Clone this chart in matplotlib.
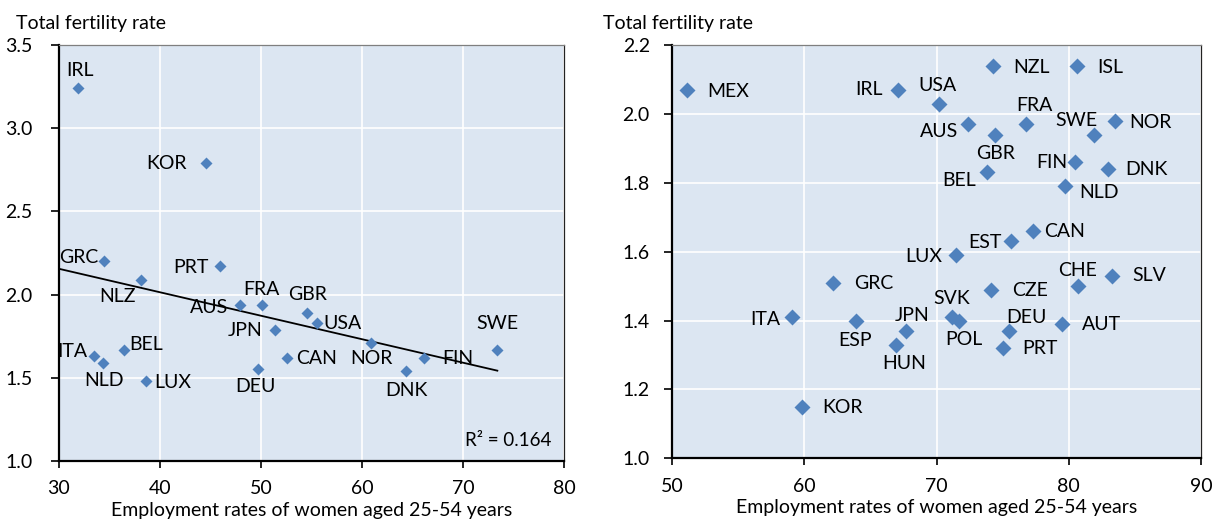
import numpy as np
import matplotlib
matplotlib.use("Agg")
import matplotlib.pyplot as plt

plt.rcParams['font.family'] = ['Lato', 'DejaVu Sans']

# Left panel: employment rate of women 25-54 vs total fertility rate
left_countries = ["IRL", "KOR", "GRC", "NLZ", "PRT", "AUS", "FRA", "JPN", "CAN", "DEU",
                  "ITA", "NLD", "BEL", "LUX", "GBR", "USA", "NOR", "FIN", "DNK", "SWE"]
left_employment = [31.9, 44.6, 34.5, 38.1, 45.9, 47.9, 50.1, 51.4, 52.6, 49.7,
                   33.5, 34.4, 36.4, 38.6, 54.6, 55.5, 60.9, 66.1, 64.4, 73.4]
left_fertility = [3.24, 2.79, 2.20, 2.09, 2.17, 1.94, 1.94, 1.79, 1.62, 1.55,
                  1.63, 1.59, 1.67, 1.48, 1.89, 1.83, 1.71, 1.62, 1.54, 1.67]
left_r2_label = "R² = 0.164"

# Right panel
right_countries = ["MEX", "IRL", "USA", "NZL", "ISL", "AUS", "GBR", "FRA", "SWE", "NOR",
                   "FIN", "DNK", "BEL", "NLD", "CAN", "EST", "LUX", "CHE", "SLV", "CZE",
                   "SVK", "POL", "DEU", "PRT", "AUT", "JPN", "HUN", "ITA", "GRC", "ESP", "KOR"]
right_employment = [51.1, 67.1, 70.2, 74.3, 80.6, 72.4, 74.4, 76.8, 81.9, 83.5,
                    80.5, 83.0, 73.8, 79.7, 77.3, 75.6, 71.5, 80.7, 83.3, 74.1,
                    71.2, 71.7, 75.5, 75.0, 79.5, 67.7, 66.9, 59.1, 62.2, 63.9, 59.8]
right_fertility = [2.07, 2.07, 2.03, 2.14, 2.14, 1.97, 1.94, 1.97, 1.94, 1.98,
                   1.86, 1.84, 1.83, 1.79, 1.66, 1.63, 1.59, 1.50, 1.53, 1.49,
                   1.41, 1.40, 1.37, 1.32, 1.39, 1.37, 1.33, 1.41, 1.51, 1.40, 1.15]

# label placement: (dx, dy) in pixels, horizontal alignment
left_label_pos = {
    "IRL": (2, 18, "center"), "KOR": (-20, 0, "right"), "GRC": (-6, 4, "right"),
    "NLZ": (-23, -17, "center"), "PRT": (-11, -1, "right"), "FRA": (-1, 15, "center"),
    "AUS": (-12, -3, "right"), "JPN": (-13, -1, "right"), "ITA": (-7, 5, "right"),
    "NLD": (1, -18, "center"), "BEL": (6, 5, "left"), "LUX": (8, -1, "left"),
    "DEU": (-3, -17, "center"), "CAN": (9, -1, "left"), "GBR": (0, 18, "center"),
    "USA": (7, -1, "left"), "NOR": (0, -16, "center"), "FIN": (19, -1, "left"),
    "DNK": (0, -19, "center"), "SWE": (0, 26, "center"),
}
right_label_pos = {
    "MEX": (21, -2, "left"), "IRL": (-15, 0, "right"), "USA": (-2, 18, "center"),
    "NZL": (20, -2, "left"), "ISL": (21, -2, "left"), "FRA": (8, 19, "center"),
    "AUS": (-10, -7, "right"), "GBR": (1, -19, "center"), "SWE": (-17, 14, "center"),
    "NOR": (14, -2, "left"), "FIN": (-8, 0, "right"), "DNK": (17, -1, "left"),
    "BEL": (-11, -8, "right"), "NLD": (14, -6, "left"), "CAN": (11, -1, "left"),
    "EST": (-9, -1, "right"), "LUX": (-14, -1, "right"), "CHE": (0, 16, "center"),
    "SLV": (20, 0, "left"), "CZE": (21, -1, "left"), "SVK": (-1, 19, "center"),
    "POL": (5, -19, "center"), "DEU": (17, 13, "center"), "PRT": (20, 0, "left"),
    "AUT": (20, -1, "left"), "JPN": (6, 15, "center"), "HUN": (9, -19, "center"),
    "ITA": (-12, -2, "right"), "GRC": (21, -1, "left"), "ESP": (-1, -20, "center"),
    "KOR": (21, -1, "left"),
}

BG = "#DCE6F2"
MARKER = "#4F81BD"
FS = 14

fig = plt.figure(figsize=(12.14, 5.25), dpi=100)
ax1 = fig.add_axes([59 / 1214, 1 - 461 / 525, 505 / 1214, 416 / 525])
ax2 = fig.add_axes([672 / 1214, 1 - 458.3 / 525, 529 / 1214, 413.3 / 525])


def style(ax, xlim, ylim, xticks, yticks, yfmt, ypad):
    ax.set_facecolor(BG)
    ax.set_xlim(*xlim)
    ax.set_ylim(*ylim)
    ax.set_xticks(xticks)
    ax.set_yticks(yticks)
    ax.set_yticklabels([yfmt.format(v) for v in yticks])
    ax.grid(True, color="white", lw=1.2)
    ax.set_axisbelow(True)
    for s in ("left", "bottom"):
        ax.spines[s].set_color("black")
        ax.spines[s].set_linewidth(1.6)
    ax.spines["top"].set_color("#7f7f7f")
    ax.spines["top"].set_linewidth(0.9)
    ax.spines["right"].set_color("#222222")
    ax.spines["right"].set_linewidth(0.9)
    ax.tick_params(axis="y", direction="out", length=6, width=1.2, pad=ypad, labelsize=FS)
    ax.tick_params(axis="x", direction="out", length=5, width=1.2, pad=9, labelsize=FS)
    ax.tick_params(top=False, right=False)
    ax.set_xlabel("Employment rates of women aged 25-54 years", fontsize=FS, labelpad=3)


style(ax1, (30, 80), (1.0, 3.5), np.arange(30, 81, 10), np.arange(1.0, 3.51, 0.5), "{:.1f}", 13)
style(ax2, (50, 90), (1.0, 2.2), np.arange(50, 91, 10), np.arange(1.0, 2.21, 0.2), "{:.1f}", 10)

ax1.plot(left_employment, left_fertility, "D", color=MARKER, ms=6, mec="none", zorder=3)
ax2.plot(right_employment, right_fertility, "D", color=MARKER, ms=8, mec="none", zorder=3)

# linear trend on the left panel, extended back to the axis origin
slope, intercept = np.polyfit(left_employment, left_fertility, 1)
xs = np.array([30, max(left_employment)])
ax1.plot(xs, slope * xs + intercept, color="black", lw=1.3, zorder=2)
ax1.text(0.975, 0.05, left_r2_label, transform=ax1.transAxes, ha="right", va="center", fontsize=FS - 0.5)

for name, x, y in zip(left_countries, left_employment, left_fertility):
    dx, dy, ha = left_label_pos[name]
    ax1.annotate(name, (x, y), xytext=(dx, dy), textcoords="offset pixels",
                 ha=ha, va="center", fontsize=FS, zorder=4)
for name, x, y in zip(right_countries, right_employment, right_fertility):
    dx, dy, ha = right_label_pos[name]
    ax2.annotate(name, (x, y), xytext=(dx, dy), textcoords="offset pixels",
                 ha=ha, va="center", fontsize=FS, zorder=4)

fig.text(16 / 1214, 1 - 24 / 525, "Total fertility rate", fontsize=FS, ha="left", va="center")
fig.text(603 / 1214, 1 - 24 / 525, "Total fertility rate", fontsize=FS, ha="left", va="center")

fig.savefig("out.png", dpi=100)
